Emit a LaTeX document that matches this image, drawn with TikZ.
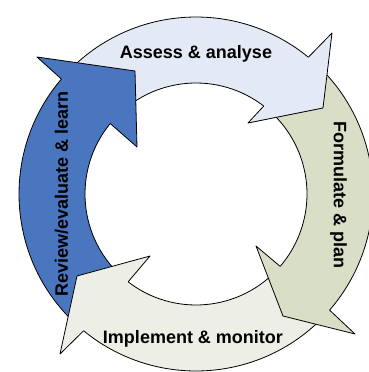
\documentclass[tikz,border=0pt]{standalone}
\usepackage{fontspec}
\setmainfont{Liberation Sans}
\usepackage{tikz}

\definecolor{assessfill}{HTML}{E3E9F5}
\definecolor{formfill}{HTML}{D9DEC7}
\definecolor{implfill}{HTML}{EDEEE6}
\definecolor{reviewfill}{HTML}{4A76C0}

\begin{document}
\begin{tikzpicture}[x=1bp,y=1bp,
    band/.style={draw=black,line width=0.8bp,line join=round},
    cyclelabel/.style={font=\fontsize{18bp}{20bp}\selectfont\bfseries,anchor=base,inner sep=0pt}]

    \def\rout{177}  % outer radius of the ring
    \def\rin{111}   % inner radius of the ring

    % Rahmen
    \useasboundingbox (-196,-178) rectangle (173,194);
    \clip (-196,-178) rectangle (173,194);

    % Pfeilkoerper
    \filldraw[band,fill=assessfill] (136:\rout) arc[start angle=136,end angle=48.6,radius=\rout]
        -- (48.6:\rin) arc[start angle=48.6,end angle=136,radius=\rin] -- cycle;
    \filldraw[band,fill=formfill] (48:\rout) arc[start angle=48,end angle=-43,radius=\rout]
        -- (-43:\rin) arc[start angle=-43,end angle=48,radius=\rin] -- cycle;
    \filldraw[band,fill=implfill] (316:\rout) arc[start angle=316,end angle=228.6,radius=\rout]
        -- (228.6:\rin) arc[start angle=228.6,end angle=316,radius=\rin] -- cycle;
    \filldraw[band,fill=reviewfill] (227:\rout) arc[start angle=227,end angle=137.5,radius=\rout]
        -- (137.5:\rin) arc[start angle=137.5,end angle=227,radius=\rin] -- cycle;

    % Pfeilspitzen
    \fill[assessfill] (50.6:\rout) -- (136,161) -- (127,86) -- (52,71) -- (52.4:\rin) -- cycle;
    \draw[band] (50.6:\rout) -- (136,161) -- (127,86) -- (52,71) -- (52.4:\rin);

    \fill[formfill] (-41:\rout) -- (159,-140) -- (87,-122) -- (60,-52) -- (-40.7:\rin) -- cycle;
    \draw[band] (-41:\rout) -- (159,-140) -- (87,-122) -- (60,-52) -- (-40.7:\rin);

    \fill[implfill] (230.6:\rout) -- (-136,-160) -- (-119,-82) -- (-46,-62) -- (232.3:\rin) -- cycle;
    \draw[band] (230.6:\rout) -- (-136,-160) -- (-119,-82) -- (-46,-62) -- (232.3:\rin);

    \fill[reviewfill] (139.5:\rout) -- (-159,137) -- (-61,123) -- (-59,47) -- (140.6:\rin) -- cycle;
    \draw[band] (139.5:\rout) -- (-159,137) -- (-61,123) -- (-59,47) -- (140.6:\rin);

    % Beschriftung
    \node[cyclelabel] (assess) at (0,136) {Assess \& analyse};
    \node[cyclelabel,rotate=-90] (formulate) at (138,-1) {Formulate \& plan};
    \node[cyclelabel] (implement) at (-3,-149) {Implement \& monitor};
    \node[cyclelabel,rotate=90] (review) at (-128,0) {Review/evaluate \& learn};

\end{tikzpicture}
\end{document}
